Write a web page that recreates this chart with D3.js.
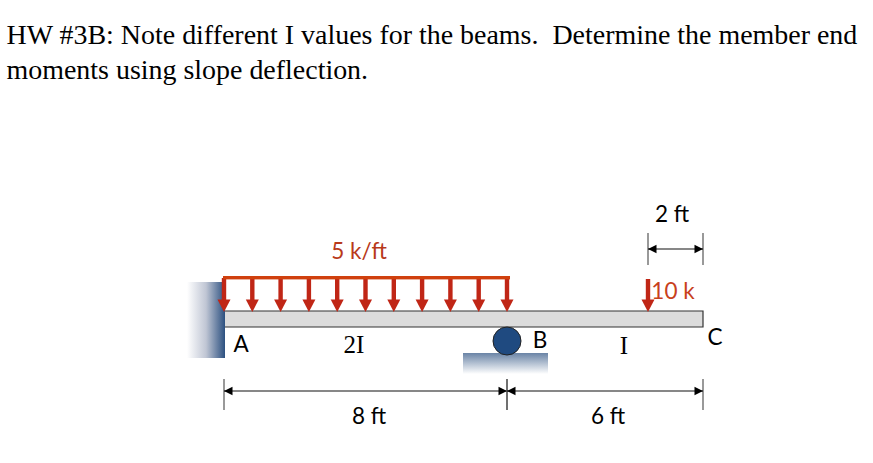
<!DOCTYPE html>
<html><head><meta charset="utf-8">
<script src="https://cdn.jsdelivr.net/npm/d3@7"></script>
<style>html,body{margin:0;padding:0;background:#fff}svg{display:block}</style></head>
<body><svg id="c" width="873" height="463"></svg>
<script>
const titleLines = ["HW #3B: Note different I values for the beams.  Determine the member end","moments using slope deflection."];
const spanFt = [0, 8, 12, 14];
const loadFt = [0, 0.8, 1.6, 2.4, 3.2, 4, 4.8, 5.6, 6.4, 7.2, 8];
const pointFt = [12];
const hDims = [{a:0,b:8,label:"8 ft",lx:369,ly:424},{a:8,b:14,label:"6 ft",lx:608,ly:424}];
const labels = [
 {t:"A",x:241,y:352,c:"#000"},{t:"2I",x:354,y:353,c:"#000"},{t:"B",x:540,y:348,c:"#000"},
 {t:"I",x:624,y:354,c:"#000"},{t:"C",x:715,y:345,c:"#000"},{t:"2 ft",x:672,y:222,c:"#000"},
 {t:"5 k/ft",x:359,y:259,c:"#b8391a"},{t:"10 k",x:673,y:299,c:"#c8401c"}];

const x = d3.scaleLinear().domain(spanFt).range([224,507,648,703]);
const svg = d3.select("#c");
const defs = svg.append("defs");
const wg = defs.append("linearGradient").attr("id","wall");
wg.append("stop").attr("offset",0).attr("stop-color","#fff");
wg.append("stop").attr("offset",0.5).attr("stop-color","#c0c6d4");
wg.append("stop").attr("offset",1).attr("stop-color","#2c5080");
const gg = defs.append("linearGradient").attr("id","ground").attr("x2",0).attr("y2",1);
gg.append("stop").attr("offset",0).attr("stop-color","#6a84a6");
gg.append("stop").attr("offset",1).attr("stop-color","#fff");

svg.selectAll(".ttl").data(titleLines).join("text").attr("class","ttl")
 .attr("x",6.5).attr("y",(d,i)=>44+i*34.7)
 .style("white-space","pre")
 .attr("font-family","'Liberation Serif'").attr("font-size",27.95).attr("fill","#000").text(d=>d);

svg.append("rect").attr("x",187).attr("y",282).attr("width",38).attr("height",76).attr("fill","url(#wall)");
svg.append("rect").attr("x",463).attr("y",353).attr("width",85).attr("height",21).attr("fill","url(#ground)");
svg.append("rect").attr("x",x(0)+1).attr("y",311).attr("width",x(14)-x(0)-1).attr("height",16)
 .attr("fill","#dcdcdc");
svg.append("path").attr("d",`M${x(0)+1},311H${x(14)}V327H${x(0)+1}`).attr("fill","none").attr("stroke","#333").attr("stroke-width",1.2);
svg.append("circle").attr("cx",x(8)).attr("cy",341).attr("r",14).attr("fill","#1f4a80").attr("stroke","#222").attr("stroke-width",1);

function arrow(g,px,top){
 g.append("rect").attr("x",px-2.2).attr("y",top).attr("width",4.4).attr("height",24).attr("fill","#c02616");
 g.append("path").attr("d",`M${px-6.5},299.5H${px+6.5}L${px},312Z`).attr("fill","#c02616");
}
const lg = svg.append("g");
loadFt.forEach(d=>arrow(lg,x(d),278));
pointFt.forEach(d=>arrow(lg,x(d),279));
lg.append("rect").attr("x",x(0)-1).attr("y",276).attr("width",x(8)-x(0)+4).attr("height",3.4).attr("fill","#d0400e");

function dim(xa,xb,y,t0,t1){
 const g=svg.append("g");
 [xa,xb].forEach(v=>g.append("line").attr("x1",v).attr("x2",v).attr("y1",t0).attr("y2",t1).attr("stroke","#555").attr("stroke-width",1.2));
 g.append("line").attr("x1",xa).attr("x2",xb).attr("y1",y).attr("y2",y).attr("stroke","#111").attr("stroke-width",1.2);
 g.append("path").attr("d",`M${xa},${y}l8.5,-4.2v8.4Z M${xb},${y}l-8.5,-4.2v8.4Z`).attr("fill","#000");
}
hDims.forEach(d=>dim(x(d.a),x(d.b),391,379,410));
dim(x(12),x(14),249,233,265);

const isI = d=>/I/.test(d.t);
svg.selectAll(".dl").data(hDims).join("text").attr("class","dl").attr("x",d=>d.lx).attr("y",d=>d.ly)
 .attr("text-anchor","middle").attr("font-family","Lato").attr("font-size",22.5).text(d=>d.label);
svg.selectAll(".lb").data(labels).join("text").attr("class","lb").attr("x",d=>d.x).attr("y",d=>d.y)
 .attr("text-anchor","middle").attr("font-family",d=>isI(d)?"'Liberation Serif'":"Lato").attr("font-size",d=>isI(d)?25:22.5).attr("fill",d=>d.c).text(d=>d.t);
</script></body></html>
